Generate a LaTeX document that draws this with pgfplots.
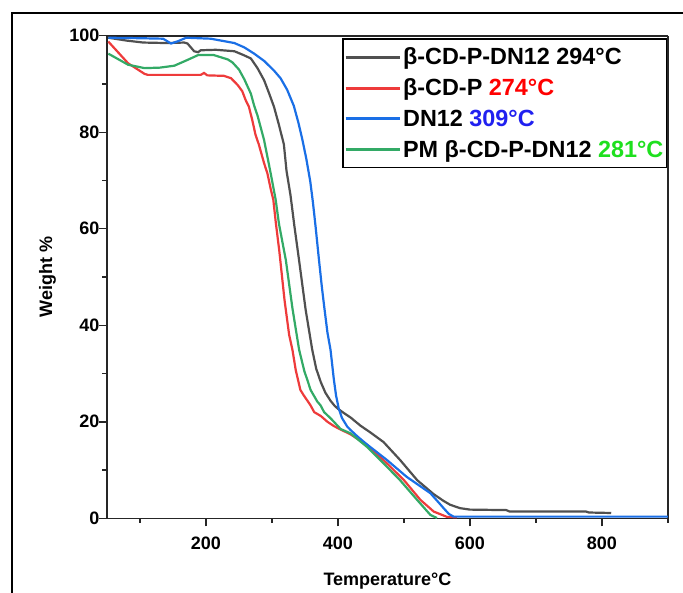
\documentclass[border=0pt]{standalone}
\usepackage{fontspec}
\setmainfont{Liberation Sans}
\usepackage{pgfplots}
\pgfplotsset{compat=1.18}
\definecolor{cgray}{HTML}{505050}
\definecolor{cred}{HTML}{EE3B3B}
\definecolor{cblue}{HTML}{1A6FE6}
\definecolor{cgreen}{HTML}{33AA66}
\definecolor{tred}{HTML}{FF0000}
\definecolor{tblue}{HTML}{2020F0}
\definecolor{tgreen}{HTML}{1EE01E}
\begin{document}
\begin{tikzpicture}
\begin{scope}
\clip (0pt,0pt) rectangle (683pt,592pt);
\draw[line width=2pt, black] (12pt,-10pt) -- (12pt,579pt) -- (700pt,579pt);
\end{scope}
\begin{axis}[
  at={(107pt,73.7pt)}, anchor=south west,
  scale only axis, width=561pt, height=482.5pt,
  xmin=50, xmax=900, ymin=0, ymax=100,
  xtick={200,400,600,800}, minor xtick={100,300,500,700,900},
  ytick={0,20,...,100}, minor ytick={10,30,...,90},
  tick align=outside, xtick pos=bottom, ytick pos=left,
  major tick length=8pt, minor tick length=4.5pt,
  separate axis lines,
  axis line style={line width=1.6pt, draw=black!85},
  every tick/.style={line width=1.4pt, black!85},
  ticklabel style={font=\fontsize{18}{20}\selectfont\bfseries},
  xticklabel style={yshift=-7pt},
  yticklabel style={xshift=4pt},
  /pgf/number format/assume math mode=true,
  xlabel={Temperature°C}, ylabel={Weight \%},
  every axis x label/.style={at={(axis description cs:0.5,-0.1397)}, anchor=base, font=\fontsize{18}{20}\selectfont\bfseries},
  every axis y label/.style={at={(axis description cs:-0.098,0.5)}, rotate=90, anchor=base, font=\fontsize{18}{20}\selectfont\bfseries},
  legend style={at={(axis description cs:0.9985,0.995)}, anchor=north east, draw=black, line width=1.5pt,
    font=\fontsize{23.4}{26}\selectfont\bfseries, inner xsep=1pt, inner ysep=7pt, row sep=8.5pt,
    nodes={inner sep=2pt}},
  legend cell align=left,
  legend image code/.code={\draw[#1, line width=3pt] (0pt,0pt) -- (54pt,0pt);},
]
\addplot[cgray, line width=2.2pt] coordinates {
(52,99.6) (80,99.0) (105,98.6) (140,98.5) (167,98.6) (172,98.4) (182,96.8) (188,96.6) (192,97.0)
(215,97.1) (243,96.8) (257,96.0) (268,95.3) (278,93.3) (288,90.8) (295,88.3) (303,85.3) (310,81.8)
(318,77.5) (322,72) (328,67) (334,60.5) (341,53.5) (351,43.2) (361,34.9) (367,31) (374,28.2)
(381,26) (389,24.3) (395,23.3) (400,22.7) (409,21.8) (419,20.9) (434,19.2) (449,17.8) (469,15.8)
(494,12.1) (520,7.9) (545,5.0) (560,3.6) (570,2.8) (585,2.1) (600,1.8) (655,1.7) (660,1.4)
(776,1.4) (780,1.2) (814,1.1)
};
\addlegendentry{β-CD-P-DN12 294°C}
\addplot[cred, line width=2.2pt] coordinates {
(52,98.8) (82,94.3) (107,92.1) (112,91.9) (192,91.9) (197,92.3) (202,91.8) (227,91.7) (238,91.2)
(248,89.8) (255,88.5) (260,86.7) (265,85.3) (270,82.6) (275,79.5) (280,77.5) (288,73.6) (293,71.5)
(298,68.3) (302,66) (306,61) (311,55.5) (319,45.2) (326,38) (331,34.9) (336,30.7) (343,26.6)
(348,25.5) (358,23.5) (364,22.0) (374,21.2) (384,20.0) (394,19.1) (404,18.4) (419,17.4) (444,15.2)
(474,11.4) (500,7.9) (525,3.8) (545,1.4) (565,0.3) (580,0.2)
};
\addlegendentry{β-CD-P \textcolor{tred}{274°C}}
\addplot[cblue, line width=2.2pt] coordinates {
(52,99.6) (100,99.5) (135,99.4) (147,98.4) (158,98.9) (170,99.6) (207,99.4) (243,98.5) (258,97.6)
(273,96.3) (288,94.8) (303,92.8) (313,91.2) (323,88.8) (333,85.5) (340,82) (346,78.5) (352,74.5)
(358,69.8) (362,65.5) (366,60.5) (371,53.8) (375.5,48) (379.6,43.3) (384,38.5) (388.7,34.9)
(393.7,28.8) (397,25.5) (401,22.8) (406,20.8) (414,19.0) (419,18.3) (430,16.9) (444,15.3)
(474,12.1) (504,8.6) (540,5.2) (553,3.2) (560,2.1) (568,0.9) (575,0.35) (900,0.35)
};
\addlegendentry{DN12 \textcolor{tblue}{309°C}}
\addplot[cgreen, line width=2.2pt] coordinates {
(52,96.3) (82,94) (107,93.3) (130,93.4) (152,93.8) (172,95) (188,96) (212,96) (233,95.1) (240,94.5)
(250,93) (258,91) (268,88) (273,85.5) (278,83.5) (288,78.4) (298,71.5) (305.6,66) (310.6,61)
(321,53.5) (331,43.5) (341,35) (349,30.5) (353.5,28.7) (358.5,26.6) (368.6,24.2) (373.6,23.4)
(379,22) (389,20.7) (404,18.5) (419,17.6) (444,14.8) (469,11.4) (494,7.9) (520,3.8) (540,0.7) (550,0.05)
};
\addlegendentry{PM β-CD-P-DN12 \textcolor{tgreen}{281°C}}
\end{axis}
\pgfresetboundingbox
\useasboundingbox (0pt,0pt) rectangle (683pt,592pt);
\end{tikzpicture}
\end{document}
